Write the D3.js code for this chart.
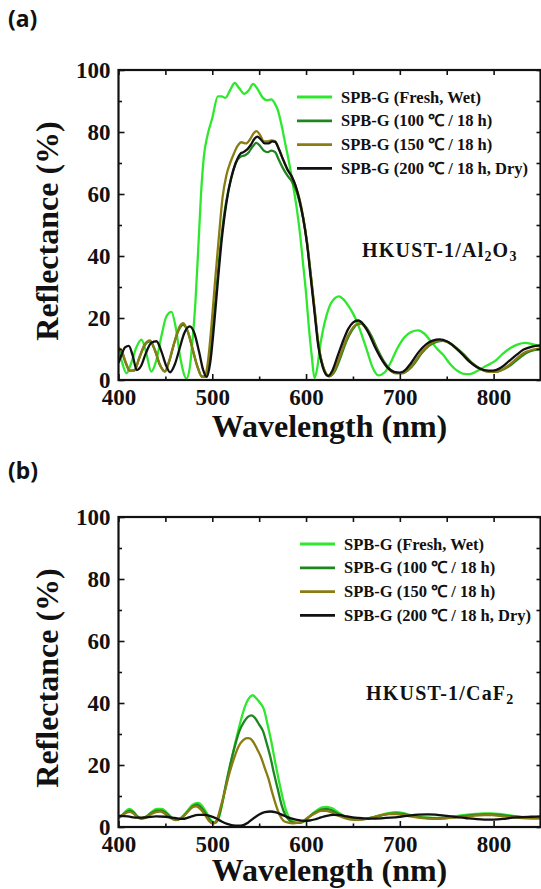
<!DOCTYPE html>
<html>
<head>
<meta charset="utf-8">
<script src="https://cdn.jsdelivr.net/npm/d3@7"></script>
<style>
  body { margin: 0; background: #fff; }
  svg { display: block; }
  text { font-family: "Liberation Serif", "Times New Roman", serif; font-weight: bold; fill: #111; }
</style>
</head>
<body>
<svg id="chart" width="541" height="889"></svg>
<script>
// legend labels + colors
var seriesNames = ["SPB-G (Fresh, Wet)", "SPB-G (100 \u2103 / 18 h)", "SPB-G (150 \u2103 / 18 h)", "SPB-G (200 \u2103 / 18 h, Dry)"];
var seriesColors = ["#2ee82e", "#1f861f", "#8a7c12", "#111111"];

var xTicks = [400, 500, 600, 700, 800];
var yTicks = [0, 20, 40, 60, 80, 100];

// panel (a) HKUST-1/Al2O3 : [wavelength nm, reflectance %]
var aFresh = [[400,10],[404,5.5],[408.5,2.2],[413,5],[419,10.5],[424.5,13],[429,9.5],[435,2.7],[440,6],[446,14.5],[451,20.5],[456.5,22],[461,17],[466,7],[472.5,0.5],[476,4],[479,13],[482,25],[485,42],[488,60],[491,72],[495,79],[500,84.5],[506,91.5],[510,91.5],[514,91],[519,93.5],[524,95.8],[529,94],[534,92.3],[539,93.5],[543.5,95.5],[548,94],[554,91],[558,90.3],[563,90.5],[567,89],[570,87],[574,82],[578,76],[582,70],[586,63],[590,55.5],[594,46],[597,37],[600,28],[603,17],[606,8],[609,0.6],[612,4],[615,11],[618,16],[622,21],[627,25],[635,27],[640,26],[645,24],[650,21.5],[654,19],[660,14],[665,9.5],[671,4],[677,1.5],[684,2.5],[690,5.5],[697,10],[705,13.8],[712,15.5],[719.5,16],[726,15],[733,12.5],[740,10],[746,8.2],[754,5],[762,2.8],[768,2],[774.5,1.9],[782,2.8],[790,4.2],[797,5.3],[803,6.5],[810,8.5],[818,10.3],[826,11.5],[833,12],[842,11.5],[850,10.8]];
var a100 = [[400,10],[404,8.5],[408,5.2],[412,3],[417,3.2],[422,7],[428,11.3],[433.5,12.5],[439,9.5],[444,5],[449.5,2.8],[454,6],[459,11.5],[464,16],[469,17.8],[474,15.5],[479,10],[484,4.5],[489,1.2],[493,1.2],[497,6],[501,18],[505,31],[509,44],[513,54],[517,61],[521,66],[525,70],[530,72],[535,72.5],[539,73.5],[543,75.3],[547,76.5],[551,75.5],[555,74],[559,73.5],[563,74],[567,73.5],[571,71],[575,68.5],[580,66],[585,64],[589,61.5],[593,57.5],[597,52],[601,44.5],[605,34],[609,23],[613,12],[618,4.5],[625,1.2],[631,3],[637,7.5],[643,12.5],[649,16],[654,17.8],[659,18.2],[664,17],[670,14],[676,10],[683,6],[690,3.3],[697,2.2],[703,2.2],[709,3.2],[716,5.5],[723,8.5],[731,11],[739,12.3],[746,12.6],[753,12],[761,10.2],[769,8],[777,5.5],[785,3.8],[793,2.8],[802,2.6],[811,3.5],[819,5],[827,7],[835,8.7],[843,9.6],[850,10]];
var a150 = [[400,10.5],[404,9],[408,5.5],[412,3],[417,3],[422,7],[428,11.5],[433.5,12.8],[439,9.5],[444,5],[449.5,2.7],[454,6],[459,11.5],[464,16.5],[469,18.3],[474,15.5],[479,10],[484,4.5],[489,1],[492,1],[495,5],[499,17],[503,32],[507,46],[511,59],[515,66],[519,70],[523,73],[527,75.5],[531,76.7],[536,76.3],[540,77.5],[544,79.5],[547,80.3],[551,79],[555,77],[559,77],[563,77.3],[567,77],[571,74.5],[575,71.5],[580,68],[585,65.5],[589,62.5],[593,58.5],[597,52.5],[601,44.5],[605,34],[609,23],[613,12],[618,4.5],[624.5,1.2],[630,3],[636,7.5],[642,12.5],[648,16],[653,17.8],[658,18.3],[663,17],[669,14],[675,10],[682,6],[689,3.3],[696,2.2],[702,2.2],[708,3.2],[715,5.5],[722,8.5],[730,11],[738,12.5],[745,12.8],[752,12],[760,10.2],[768,8],[776,5.5],[784,3.8],[792,2.8],[801,2.6],[810,3.5],[818,5.2],[826,7.3],[834,9],[842,9.8],[850,10.2]];
var a200 = [[400,5.5],[403,8],[407,10.5],[411,11],[415,8],[419.5,3.2],[424,4.5],[429,8.5],[435,12],[440.5,12.5],[446,9],[451,4.5],[455,2.5],[460,5],[465,10],[470,15],[476,17.3],[481,15],[486,9],[490,3.5],[494,1],[498,6],[502,18],[506,32],[510,45],[515,57],[520,65],[525,70],[530,73],[533,73.5],[537,74.3],[541,75.8],[545,77.8],[548,78.5],[552,77.5],[556,76.3],[560,76.3],[564,77],[567,76.8],[571,74.5],[575,71.5],[580,68],[585,65.5],[589,62.5],[593,58],[597,52],[601,44],[605,33],[609,22],[613,11],[618,4],[623.5,1.3],[628,3],[634,8],[640,13],[645,16.5],[650,18.5],[655.5,19.2],[661,18],[667,15],[673,11],[680,7],[687,4],[694,2.6],[700,2.4],[706,3.3],[712,5.5],[720,9],[728,11.5],[735,12.7],[742.5,13.1],[750,12.5],[758,10.8],[766,8.5],[774,6],[782,4.2],[790,3.2],[799,3],[808,4],[816,6],[824,8],[832,9.8],[841,10.8],[850,11.2]];

// panel (b) HKUST-1/CaF2
var bFresh = [[400,2.8],[404,3.8],[408,5.2],[412,5.8],[416,5],[420,3.5],[424,2.8],[429,3.3],[435,4.8],[441,5.8],[446,5.8],[451,4.8],[456,3.3],[462,2.3],[467,3],[473,5],[479,7.2],[485,7.8],[490,6.5],[495,4],[499,2],[503,1.3],[507,3],[511,8],[515,14],[520,21],[526,29],[531,35],[535,39],[539,41.5],[543,42.5],[547,41.5],[551,40],[555,38],[559,33],[563,27.5],[567,21],[571,15],[575,9.5],[579,5],[583,2.6],[588,1.6],[593,1.3],[597,1.6],[602,2.8],[607,4.3],[612,5.5],[617,6.3],[622,6.5],[628,6],[634,4.8],[641,3.5],[648,2.8],[656,2.5],[664,2.6],[672,3.2],[680,3.9],[688,4.5],[696,4.8],[704,4.5],[712,3.8],[720,3.3],[730,3],[740,2.9],[750,3.1],[760,3.5],[770,3.9],[780,4.2],[790,4.4],[798,4.4],[806,4.2],[815,3.8],[825,3.4],[835,3.1],[850,3]];
var b100 = [[400,3.2],[404,3.8],[408,4.8],[412,5.3],[416,4.7],[420,3.4],[424,2.8],[429,3.2],[435,4.5],[441,5.3],[446,5.3],[451,4.4],[456,3.1],[462,2.3],[467,2.9],[473,4.7],[479,6.6],[484,7.2],[489,6],[494,3.8],[498,2],[502,1.3],[506,2.5],[510,7],[514,13],[519,20],[524,26],[529,31],[534,34],[538,35.5],[542,36],[546,35],[550,33],[554,31],[558,27],[562,22.5],[566,17],[570,12],[574,7],[578,3.8],[582,2.2],[587,1.4],[592,1.3],[597,1.8],[602,3],[607,4.2],[612,5],[617,5.7],[622,5.8],[628,5.3],[634,4.3],[641,3.3],[648,2.7],[656,2.5],[664,2.6],[672,3.1],[680,3.7],[688,4.2],[696,4.4],[704,4.2],[712,3.6],[720,3.2],[730,2.9],[740,2.8],[750,3],[760,3.3],[770,3.6],[780,3.9],[790,4.1],[798,4.1],[806,3.9],[815,3.6],[825,3.3],[835,3.1],[850,3]];
var b150 = [[400,3.3],[404,3.8],[408,4.5],[412,4.9],[416,4.3],[420,3.2],[424,2.6],[429,3],[435,4.2],[441,4.9],[445,5],[450,4.2],[455,3],[461,2.2],[466,2.7],[472,4.4],[478,6.2],[483,6.7],[488,5.6],[493,3.5],[497,1.8],[501,1.1],[505,2.4],[509,6.5],[513,11],[518,17],[523,22],[528,26],[533,28],[537,28.7],[540,28.6],[544,27.3],[548,25],[552,22.5],[556,19],[560,15.5],[564,11],[568,7],[572,3.8],[576,2],[581,1.4],[586,1.2],[591,1.3],[596,1.8],[601,2.8],[606,3.8],[611,4.6],[616,5.2],[621,5.2],[627,4.7],[633,3.8],[640,3],[648,2.4],[656,2.3],[664,2.6],[672,3.2],[680,3.8],[688,4.2],[696,4.2],[704,3.9],[712,3.4],[720,3],[730,2.7],[740,2.6],[750,2.8],[760,3.1],[770,3.4],[780,3.7],[790,3.8],[798,3.8],[806,3.6],[815,3.3],[825,3],[835,2.8],[850,2.7]];
var b200 = [[400,3.6],[410,3.4],[420,3],[430,3.1],[440,3.4],[450,3.3],[460,2.9],[468,2.6],[476,3.2],[485,3.9],[492,3.9],[498,3.5],[504,2.8],[510,1.8],[516,1],[522,0.5],[528,0.4],[533,0.6],[538,1.4],[544,2.8],[550,4],[556,4.8],[562,5],[568,4.7],[574,4],[580,3.2],[586,2.6],[592,2.2],[598,2],[604,2.1],[610,2.5],[616,3.1],[622,3.6],[629,3.9],[636,3.8],[644,3.4],[652,3],[661,2.8],[670,2.7],[680,2.8],[690,3],[700,3.3],[710,3.7],[720,4],[730,4.1],[740,3.9],[750,3.6],[760,3.2],[770,2.9],[780,2.6],[790,2.4],[800,2.4],[810,2.6],[820,3],[830,3.2],[840,3.3],[850,3.4]];

var svg = d3.select("#chart");

function drawPanel(opt) {
  var top = opt.top;
  var left = 118.5, right = 540.5, h = 310;
  var x = d3.scaleLinear().domain([400, 850]).range([left, right]);
  var y = d3.scaleLinear().domain([0, 100]).range([top + h, top]);
  var g = svg.append("g");

  var clipId = "clip-" + opt.tag;
  svg.append("clipPath").attr("id", clipId).append("rect")
    .attr("x", left).attr("y", top).attr("width", right - left).attr("height", h);

  // panel tag
  svg.append("text").attr("x", 8).attr("y", opt.tagY)
    .style("font-family", "'Noto Sans', sans-serif").style("font-size", "23px")
    .text("(" + opt.tag + ")");

  // lines
  var line = d3.line().x(function(d){ return x(d[0]); }).y(function(d){ return y(d[1]); })
    .curve(d3.curveMonotoneX);
  var lg = g.append("g").attr("clip-path", "url(#" + clipId + ")");
  opt.series.forEach(function(s, i){
    lg.append("path").datum(s)
      .attr("fill", "none")
      .attr("stroke", seriesColors[i])
      .attr("stroke-width", 2.3)
      .attr("stroke-linejoin", "round")
      .attr("d", line);
  });

  // axes - ticks inward on all four sides
  var minorX = [450, 550, 650, 750];
  var minorY = [10, 30, 50, 70, 90];
  function styleAxis(sel) {
    sel.select(".domain").remove();
    sel.selectAll("line").attr("stroke", "#111").attr("stroke-width", 1.6);
    sel.selectAll("text").style("font-size", "23px").style("font-family", "'Liberation Serif', serif")
      .style("font-weight", "bold").attr("fill", "#111");
  }
  g.append("g").attr("transform", "translate(0," + (top + h) + ")")
    .call(d3.axisBottom(x).tickValues(xTicks).tickSize(-6).tickPadding(9).tickFormat(d3.format("d")))
    .call(styleAxis);
  g.append("g").attr("transform", "translate(0," + (top + h) + ")")
    .call(d3.axisBottom(x).tickValues(minorX).tickSize(-3.5).tickFormat(""))
    .call(styleAxis);
  g.append("g").attr("transform", "translate(0," + top + ")")
    .call(d3.axisTop(x).tickValues(xTicks.concat(minorX)).tickSize(-5).tickFormat(""))
    .call(styleAxis);
  g.append("g").attr("transform", "translate(" + left + ",0)")
    .call(d3.axisLeft(y).tickValues(yTicks).tickSize(-6).tickPadding(8).tickFormat(d3.format("d")))
    .call(styleAxis);
  g.append("g").attr("transform", "translate(" + left + ",0)")
    .call(d3.axisLeft(y).tickValues(minorY).tickSize(-3.5).tickFormat(""))
    .call(styleAxis);
  g.append("g").attr("transform", "translate(" + right + ",0)")
    .call(d3.axisRight(y).tickValues(yTicks.concat(minorY)).tickSize(-4).tickFormat(""))
    .call(styleAxis);

  // frame
  g.append("rect").attr("x", left).attr("y", top).attr("width", right - left).attr("height", h)
    .attr("fill", "none").attr("stroke", "#111").attr("stroke-width", 2.2);

  // axis titles
  g.append("text").attr("x", (left + right) / 2).attr("y", top + h + opt.titleGap)
    .attr("text-anchor", "middle").style("font-size", "32px").text("Wavelength (nm)");
  g.append("text").attr("transform", "translate(58," + (top + h / 2 + 6) + ") rotate(-90)")
    .attr("text-anchor", "middle").style("font-size", "32px").text("Reflectance (%)");

  // legend
  var leg = g.append("g");
  seriesNames.forEach(function(name, i){
    var ly = top + 27 + i * 23.8;
    leg.append("line").attr("x1", opt.legendLeft).attr("x2", opt.legendLeft + 35)
      .attr("y1", ly).attr("y2", ly)
      .attr("stroke", seriesColors[i]).attr("stroke-width", 2.8);
    leg.append("text").attr("x", opt.legendLeft + 44).attr("y", ly + 5.5)
      .style("font-size", "16.5px").text(name);
  });

  // material label with subscripts
  var note = g.append("text").attr("x", opt.noteX).attr("y", opt.noteY)
    .style("font-size", "20px").style("letter-spacing", "1.2px");
  opt.note.forEach(function(part){
    var t = note.append("tspan").text(part[0]);
    if (part[1]) t.attr("baseline-shift", "-25%").style("font-size", "14px");
    else t.attr("baseline-shift", "0%");
  });
}

drawPanel({ top: 70, tag: "a", tagY: 27, series: [aFresh, a100, a150, a200],
  note: [["HKUST-1/Al"], ["2", 1], ["O"], ["3", 1]], noteX: 362, noteY: 257,
  legendLeft: 297, titleGap: 57 });
drawPanel({ top: 517, tag: "b", tagY: 479, series: [bFresh, b100, b150, b200],
  note: [["HKUST-1/CaF"], ["2", 1]], noteX: 366, noteY: 700,
  legendLeft: 300, titleGap: 54 });
</script>
</body>
</html>
